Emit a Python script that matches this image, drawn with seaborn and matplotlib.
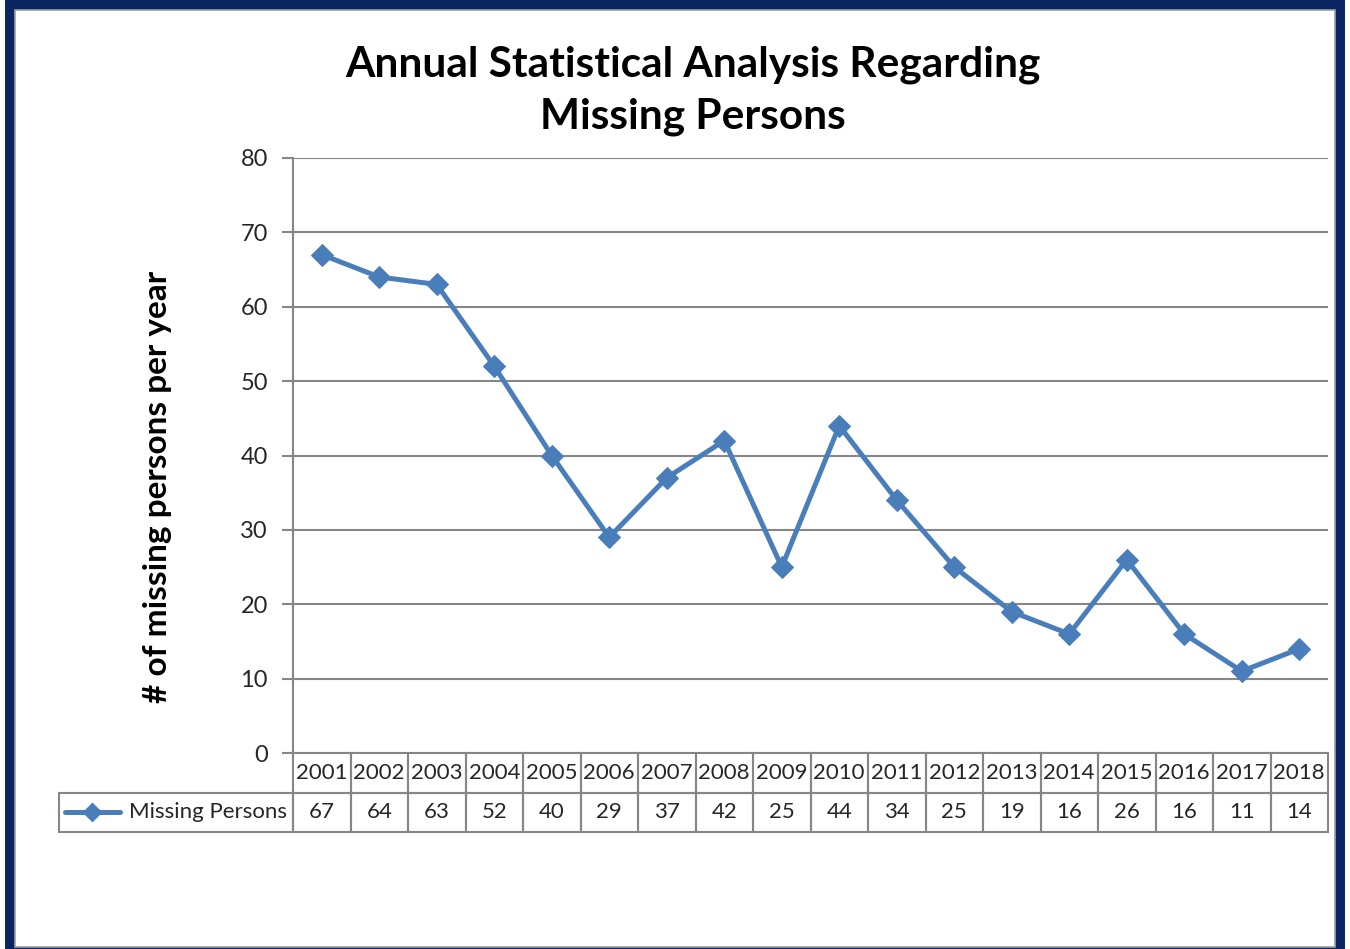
import seaborn as sns
import pandas as pd
import matplotlib.pyplot as plt
from matplotlib.patches import Rectangle
from matplotlib.lines import Line2D

# Data
years = [2001, 2002, 2003, 2004, 2005, 2006, 2007, 2008, 2009,
         2010, 2011, 2012, 2013, 2014, 2015, 2016, 2017, 2018]
missing = [67, 64, 63, 52, 40, 29, 37, 42, 25, 44, 34, 25, 19, 16, 26, 16, 11, 14]
series_name = 'Missing Persons'
y_ticks = [0, 10, 20, 30, 40, 50, 60, 70, 80]

df = pd.DataFrame({'year': years, 'count': missing})

sns.set_style('white')
plt.rcParams['font.family'] = ['Lato', 'DejaVu Sans']

line_color = '#4a7ebb'
grid_color = '#868686'
text_color = '#262626'

W, H = 1350, 949
fig = plt.figure(figsize=(13.5, 9.49), dpi=100)

# Navy frame round the chart
fig.patches.append(Rectangle((5 / W, 0), 1340 / W, 1, transform=fig.transFigure,
                             facecolor='#0b2462', edgecolor='none', zorder=-10))
fig.patches.append(Rectangle((15 / W, 2 / H), 1320 / W, 937 / H, transform=fig.transFigure,
                             facecolor='white', edgecolor='#a0a0a0', linewidth=1.2, zorder=-9))

ax_l, ax_r, ax_t, ax_b = 293, 1328, 158, 753
ax_w, ax_h = ax_r - ax_l, ax_b - ax_t
ax = fig.add_axes([ax_l / W, 1 - ax_b / H, ax_w / W, ax_h / H])
ax.set_facecolor('none')

# Plot the line
sns.lineplot(data=df, x='year', y='count', ax=ax, color=line_color, linewidth=3.6,
             marker='D', markersize=11, markeredgecolor=line_color, zorder=5, clip_on=False)

ax.set_xlim(years[0] - 0.5, years[-1] + 0.5)
ax.set_ylim(0, 80)
ax.set_yticks(y_ticks)
ax.set_xticks([])
ax.set_xlabel('')
ax.set_ylabel('')

# Gridlines and axis styling
ax.grid(axis='y', color=grid_color, linewidth=1.5)
ax.set_axisbelow(True)
for side in ['top', 'right', 'bottom']:
    ax.spines[side].set_visible(False)
ax.spines['left'].set_color(grid_color)
ax.spines['left'].set_linewidth(1.5)
ax.tick_params(axis='y', left=True, length=8, width=1.5, color=grid_color,
               labelsize=17, labelcolor=text_color, pad=10)

# Data table under the plot (years row, then values row with legend key)
n = len(years)
row1_h = 40 / ax_h
row2_h = 39 / ax_h
label_x = (59 - ax_l) / ax_w
cell_kw = dict(transform=ax.transAxes, fill=False, edgecolor=grid_color,
               linewidth=1.5, clip_on=False)
for j in range(n):
    x0 = j / n
    ax.add_patch(Rectangle((x0, -row1_h), 1 / n, row1_h, **cell_kw))
    ax.add_patch(Rectangle((x0, -row1_h - row2_h), 1 / n, row2_h, **cell_kw))
    ax.text(x0 + 0.5 / n, -row1_h / 2, str(years[j]), transform=ax.transAxes,
            ha='center', va='center', fontsize=16, color=text_color)
    ax.text(x0 + 0.5 / n, -row1_h - row2_h / 2, str(missing[j]), transform=ax.transAxes,
            ha='center', va='center', fontsize=16, color=text_color)
ax.add_patch(Rectangle((label_x, -row1_h - row2_h), -label_x, row2_h, **cell_kw))
ax.text(-6 / ax_w, -row1_h - row2_h / 2, series_name, transform=ax.transAxes,
        ha='right', va='center', fontsize=16, color=text_color)

# Legend key in the table
key_y = 1 - 812 / H
fig.lines.append(Line2D([65 / W, 120 / W], [key_y, key_y], transform=fig.transFigure,
                        color=line_color, linewidth=3.6))
fig.lines.append(Line2D([92 / W], [key_y], transform=fig.transFigure, color=line_color,
                        marker='D', markersize=9, markeredgecolor=line_color))

# Title and y label
fig.text(693 / W, 1 - 91 / H, 'Annual Statistical Analysis Regarding\nMissing Persons',
         ha='center', va='center', fontsize=30.5, fontweight='bold', linespacing=1.45,
         color='black')
fig.text(158 / W, 1 - 487 / H, '# of missing persons per year', rotation=90,
         ha='center', va='center', fontsize=24, fontweight='bold', color='black')

plt.savefig('out.png', dpi=100)
